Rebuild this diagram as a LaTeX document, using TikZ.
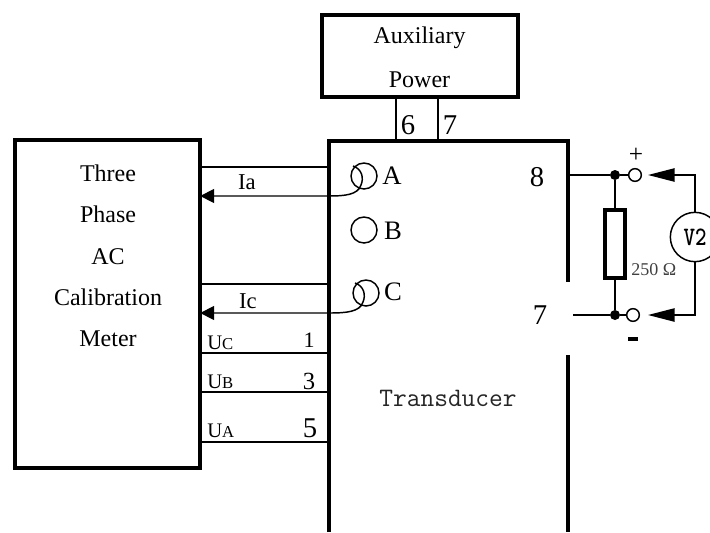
\documentclass[tikz,border=0pt]{standalone}
\usepackage{fontspec}
\setmainfont{Liberation Serif}
\usetikzlibrary{arrows.meta,calc}
\newcommand{\pxf}[1]{\fontsize{#1}{#1}\selectfont}
\tikzset{
  x=0.75pt,y=-0.75pt,
  heavy/.style={line width=3pt},
  wire/.style={line width=1.1pt},
  thinbox/.style={draw=none,inner sep=0pt,outer sep=0pt},
  bigbox/.style={draw,heavy,inner sep=0pt,outer sep=0pt,fill=white},
  ct/.style={circle,draw,line width=1.1pt,minimum size=19.5pt,inner sep=0pt,outer sep=0pt},
  term/.style={circle,draw,line width=1.1pt,fill=white,minimum size=9.5pt,inner sep=0pt,outer sep=0pt},
  dot/.style={circle,fill=black,minimum size=7.5pt,inner sep=0pt,outer sep=0pt},
  lbl/.style={inner sep=0pt,font=\pxf{18}},
  mid/.style={inner sep=0pt,font=\pxf{20}},
  num/.style={inner sep=0pt,font=\pxf{21.5}},
  small/.style={inner sep=0pt,font=\pxf{17}},
  lefttip/.style={-{Triangle[length=10.5pt,width=10.5pt]}},
  righttip/.style={-{Triangle[length=20pt,width=10pt]}},
}
\begin{document}
\begin{tikzpicture}
\useasboundingbox (0,0) rectangle (710,532);
% named outlines
\node[thinbox,minimum width=132pt,minimum height=61.5pt] (trans) at (448.5,336.5) {};
\coordinate (tNW) at (329,141);
\coordinate (tNE) at (567.5,141);
\coordinate (tSW) at (329,532);
\coordinate (tSE) at (567.5,532);
\coordinate (tgapA) at (567.5,282);
\coordinate (tgapB) at (567.5,355);
% wires between meter and transducer
\node[bigbox,minimum width=139pt,minimum height=245.5pt] (meter) at (107.5,304) {};
\node[bigbox,minimum width=147pt,minimum height=61.5pt] (aux) at (419.5,56) {};
\coordinate (tL) at (329,300);
\draw[wire] (200,167) -- (tL |- 0,167);
\draw[wire] (200,284) -- (tL |- 0,284);
\draw[wire] (200,353) -- (tL |- 0,353);
\draw[wire] (200,392) -- (tL |- 0,392);
\draw[wire] (200,442) -- (tL |- 0,442);
% aux wires
\draw[wire] (aux.south -| 396,0) -- (396,141);
\draw[wire] (aux.south -| 438,0) -- (438,141);
% transducer outline
\draw[heavy] (tSW) -- (tNW) -- (tNE) -- (tgapA);
\draw[heavy] (tgapB) -- (tSE);
% current transformers
\node[ct] (ctA) at (364,176) {};
\node[ct] (ctB) at (364,230) {};
\node[ct] (ctC) at (366,293) {};
\draw[wire,lefttip] ([shift={(-11,-10)}]ctA.center) .. controls ([shift={(-2,-7)}]ctA.center) and ([shift={(0,2)}]ctA.center) .. ([shift={(-3,9)}]ctA.center) .. controls ([shift={(-6,19)}]ctA.center) and ([shift={(-20,20)}]ctA.center) .. ([shift={(-35,20)}]ctA.center) -- (meter.east |- 0,196);
\draw[wire,lefttip] ([shift={(-11,-10)}]ctC.center) .. controls ([shift={(-2,-7)}]ctC.center) and ([shift={(0,2)}]ctC.center) .. ([shift={(-3,9)}]ctC.center) .. controls ([shift={(-6,19)}]ctC.center) and ([shift={(-20,20)}]ctC.center) .. ([shift={(-37,20)}]ctC.center) -- (meter.east |- 0,313);
% output side
\node[dot] (d1) at (615,175) {};
\node[dot] (d2) at (615,315) {};
\node[term] (t1) at (635,175) {};
\node[term] (t2) at (633,315) {};
\coordinate (o7) at (573,315);
\draw[wire] (tNE |- d1) -- (d1) -- (t1);
\draw[wire] (o7) -- (d2) -- (t2);
\draw[wire] (d1) -- (d2);
\node[bigbox,minimum width=15pt,minimum height=51pt] (res) at (615,244) {};
\node[circle,draw,line width=1.1pt,fill=white,minimum size=37pt,inner sep=0pt,outer sep=0pt,font=\ttfamily\bfseries\pxf{20}] (v2) at (695,237) {\scalebox{0.82}[1]{V2}};
\coordinate (aU) at (648,175);
\coordinate (aD) at (648,315);
\draw[wire,righttip] (v2.north) |- (aU);
\draw[wire,righttip] (v2.south) |- (aD);
% labels
\node[lbl] (l1) at (419.5,38) {Auxiliary};
\node[lbl] (l2) at (419.5,80) {Power};
\node[lbl] (m1) at (108,173) {Three};
\node[lbl] (m2) at (108,214) {Phase};
\node[lbl] (m3) at (108,257) {AC};
\node[lbl] (m4) at (108,297) {Calibration};
\node[lbl] (m5) at (108,339) {Meter};
\node[num] (n6) at (408,125) {6};
\node[num] (n7) at (450,125) {7};
\node[mid] (la) at (392,176) {A};
\node[mid] (lb) at (393,231) {B};
\node[mid] (lc) at (393,292) {C};
\node[small] (ia) at (247,182) {Ia};
\node[small] (ic) at (248,301) {Ic};
\node[inner sep=0pt,anchor=base west] (uc) at (207,349) {\pxf{15.5}U\pxf{12.5}C};
\node[inner sep=0pt,anchor=base west] (ub) at (207,388) {\pxf{15.5}U\pxf{12.5}B};
\node[inner sep=0pt,anchor=base west] (ua) at (207,437) {\pxf{15.5}U\pxf{12.5}A};
\node[inner sep=0pt,font=\pxf{16.5}] (n1) at (309,340) {1};
\node[inner sep=0pt,font=\pxf{18.5}] (n3) at (309,381) {3};
\node[inner sep=0pt,font=\pxf{21.5}] (n5) at (310,428) {5};
\node[num] (n8) at (537,177) {8};
\node[num] (n7b) at (540,315) {7};
\node[inner sep=0pt,font=\pxf{19}] (plus) at (636,155) {+};
\node[fill=black,minimum width=8pt,minimum height=2.3pt,inner sep=0pt] (minus) at (633,339) {};
\node[inner sep=0pt,anchor=west,font=\pxf{13.5},text=black!75] (ohm) at (631,270) {250 Ω};
\node[inner sep=0pt,font=\ttfamily\pxf{20},text=black!85] (tr) at (448,398) {Transducer};
\end{tikzpicture}
\end{document}
